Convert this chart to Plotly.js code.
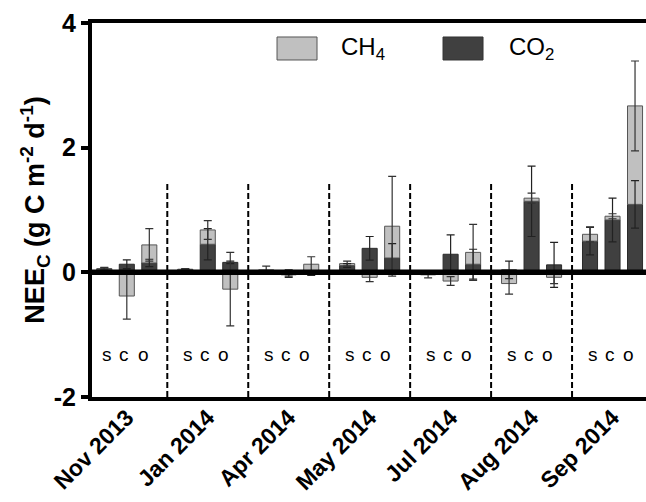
<!DOCTYPE html>
<html>
<head>
<meta charset="utf-8">
<script src="https://cdn.plot.ly/plotly-3.0.1.min.js"></script>
<style>
html,body{margin:0;padding:0;overflow:hidden;background:#fff;}
#chart{width:660px;height:502px;}
</style>
</head>
<body>
<div id="chart"></div>
<script>
// ---------- data ----------
const categories = ['Nov 2013','Jan 2014','Apr 2014','May 2014','Jul 2014','Aug 2014','Sep 2014'];
const sites = ['s','c','o'];
// NEE_C components per month, per site (s, c, o)  [g C m-2 d-1]
const co2 = [
  [0.05, 0.13, 0.15],
  [0.04, 0.45, 0.16],
  [0.00, -0.02, -0.03],
  [0.11, 0.385, 0.23],
  [-0.01, 0.29, 0.13],
  [0.04, 1.14, 0.12],
  [0.50, 0.84, 1.09]
];
const co2Err = [
  [0.02, 0.07, 0.06],
  [0.01, 0.25, 0.02],
  [0.00, 0.06, 0.02],
  [0.03, 0.19, 0.23],
  [0.01, 0.31, 0.24],
  [0.14, 0.565, 0.36],
  [0.22, 0.35, 0.38]
];
const ch4 = [
  [0.01, -0.38, 0.29],
  [0.01, 0.23, -0.27],
  [0.04, -0.02, 0.13],
  [0.03, -0.08, 0.51],
  [-0.03, -0.14, 0.19],
  [-0.18, 0.05, -0.08],
  [0.11, 0.06, 1.58]
];
const ch4Err = [
  [0.02, 0.37, 0.26],
  [0.01, 0.15, 0.59],
  [0.06, 0.02, 0.12],
  [0.04, 0.07, 0.80],
  [0.05, 0.07, 0.45],
  [0.17, 0.08, 0.10],
  [0.12, 0.04, 0.72]
];
const yTicks = [-2, 0, 2, 4];

// ---------- layout constants ----------
const siteOffsets = [-0.278, 0, 0.278];
const labelOffsets = [-0.245, -0.03, 0.2];
const barWidth = 0.186;
const xRange = [-0.43, 6.5];
const yRange = [-2, 4];
const FONT = 'Liberation Sans, Arial, Helvetica, sans-serif';

const xs = [], co2Flat = [], co2ErrFlat = [], ch4Flat = [], ch4ErrFlat = [];
categories.forEach((c, i) => {
  sites.forEach((s, j) => {
    xs.push(i + siteOffsets[j]);
    co2Flat.push(co2[i][j]);
    co2ErrFlat.push(co2Err[i][j]);
    ch4Flat.push(ch4[i][j]);
    ch4ErrFlat.push(ch4Err[i][j]);
  });
});

const traces = [
  {type:'bar', name:'CO2', x:xs, y:co2Flat, width:barWidth,
   marker:{color:'#404040', line:{color:'#2a2a2a', width:1}}, showlegend:false, hoverinfo:'y'},
  {type:'bar', name:'CH4', x:xs, y:ch4Flat, width:barWidth,
   marker:{color:'#c0c0c0', line:{color:'#555555', width:1}}, showlegend:false, hoverinfo:'y'},
  // error bars drawn on an overlay so they are not hidden by the stacked segments
  {type:'bar', x:xs, y:co2Flat, width:barWidth, xaxis:'x2', yaxis:'y2',
   marker:{color:'rgba(0,0,0,0)', line:{width:0}}, showlegend:false, hoverinfo:'skip',
   error_y:{type:'data', array:co2ErrFlat, visible:true, color:'#222', thickness:1.2, width:4}},
  {type:'bar', x:xs, y:ch4Flat, width:barWidth, xaxis:'x2', yaxis:'y2',
   marker:{color:'rgba(0,0,0,0)', line:{width:0}}, showlegend:false, hoverinfo:'skip',
   error_y:{type:'data', array:ch4ErrFlat, visible:true, color:'#333', thickness:1.2, width:4}}
];

const shapes = [];
for (let i = 0; i < categories.length - 1; i++) {
  shapes.push({type:'line', xref:'x', yref:'y', x0:i+0.5, x1:i+0.5, y0:-2, y1:1.42,
    line:{color:'#000', width:2, dash:'6px,3px'}, layer:'below'});
}
shapes.push({type:'line', xref:'paper', yref:'y', x0:0, x1:1, y0:0, y1:0,
  line:{color:'#000', width:5.5}, layer:'above'});
// legend boxes
shapes.push({type:'rect', xref:'paper', yref:'paper', x0:0.3298, x1:0.4011, y0:0.9011, y1:0.9626,
  fillcolor:'#c0c0c0', line:{color:'#555', width:1}});
shapes.push({type:'rect', xref:'paper', yref:'paper', x0:0.6257, x1:0.6970, y0:0.9011, y1:0.9626,
  fillcolor:'#404040', line:{color:'#333', width:1}});

const annotations = [];
categories.forEach((c, i) => {
  sites.forEach((s, j) => {
    annotations.push({x:i + labelOffsets[j], y:-1.32, xref:'x', yref:'y', text:s, showarrow:false,
      font:{family:FONT, size:19, color:'#000'}});
  });
});
annotations.push({xref:'paper', yref:'paper', x:0.4395, y:0.933, xanchor:'left', yanchor:'middle',
  text:'CH<sub>4</sub>', showarrow:false, font:{family:FONT, size:24, color:'#000'}});
annotations.push({xref:'paper', yref:'paper', x:0.7398, y:0.933, xanchor:'left', yanchor:'middle',
  text:'CO<sub>2</sub>', showarrow:false, font:{family:FONT, size:24, color:'#000'}});

const layout = {
  width:660, height:502,
  margin:{l:92, r:7, t:23, b:105},
  paper_bgcolor:'#fff', plot_bgcolor:'#fff',
  barmode:'relative',
  font:{family:FONT, color:'#000'},
  xaxis:{range:xRange, tickmode:'array', tickvals:categories.map((c,i)=>i), ticktext:categories,
    tickangle:-45, ticks:'', showgrid:false, zeroline:false, ticklabelstandoff:-6,
    showline:true, linewidth:4, linecolor:'#000', mirror:true,
    tickfont:{family:FONT, size:23, weight:'bold', color:'#000'}},
  yaxis:{range:yRange, tickmode:'array', tickvals:yTicks, ticktext:yTicks.map(String),
    ticks:'outside', ticklen:7, tickwidth:4,
    tickcolor:'#000', showgrid:false, zeroline:false,
    showline:true, linewidth:4, linecolor:'#000', mirror:true,
    tickfont:{family:FONT, size:25, weight:'bold', color:'#000'},
    title:{text:'NEE<sub>C</sub> (g C m<sup>-2</sup> d<sup>-1</sup>)', standoff:2,
      font:{family:FONT, size:27, weight:'bold', color:'#000'}}},
  xaxis2:{overlaying:'x', anchor:'y2', range:xRange, visible:false},
  yaxis2:{overlaying:'y', anchor:'x2', range:yRange, visible:false},
  shapes:shapes,
  annotations:annotations,
  showlegend:false
};

Plotly.newPlot('chart', traces, layout, {staticPlot:true, displayModeBar:false});
</script>
</body>
</html>
